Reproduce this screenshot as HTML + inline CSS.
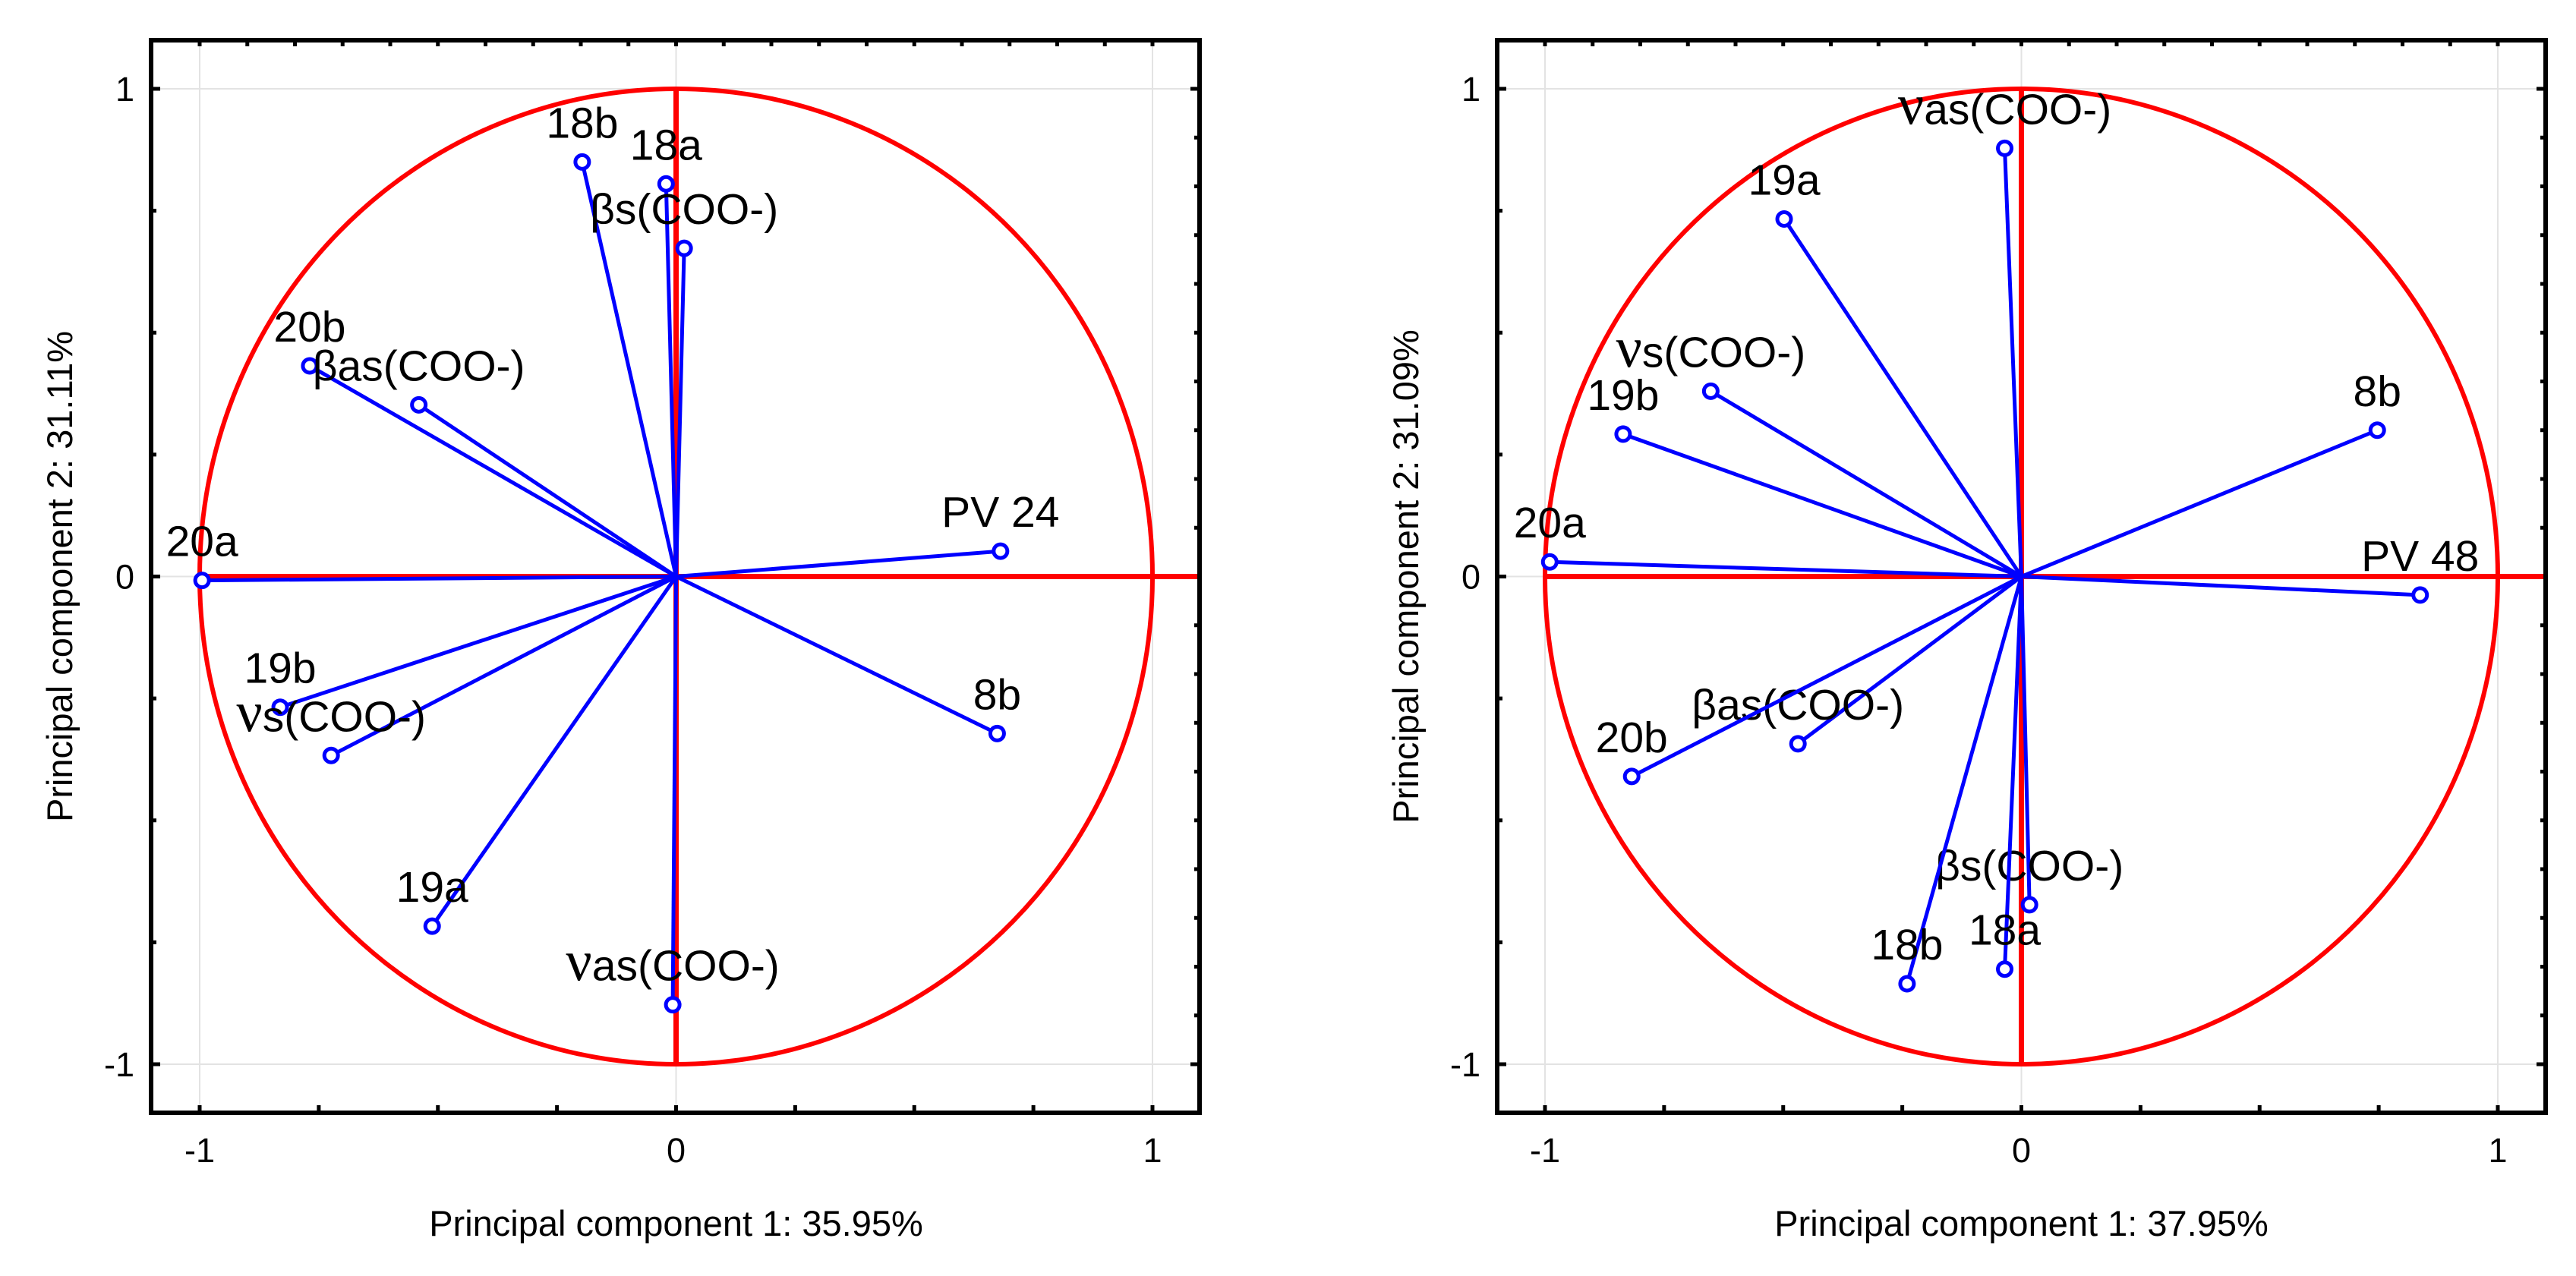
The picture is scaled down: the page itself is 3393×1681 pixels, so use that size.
<!DOCTYPE html>
<html><head><meta charset="utf-8"><style>
html,body{margin:0;padding:0;background:#fff}
svg{display:block}
text{font-family:"Liberation Sans",sans-serif;fill:#000}
</style></head><body>
<svg id="svg" width="3393" height="1681" viewBox="0 0 3393 1681" xmlns="http://www.w3.org/2000/svg"></svg>
<script>
// Left panel data (PV 24)
const leftLabels = ["20a","20b","βas","18b","18a","βs","PV24","8b","19b","νs","19a","νas"];
const leftX = [-0.995,-0.769,-0.540,-0.197,-0.021,0.017,0.681,0.674,-0.831,-0.724,-0.512,-0.007];
const leftY = [-0.008,0.432,0.352,0.850,0.805,0.673,0.052,-0.322,-0.268,-0.367,-0.717,-0.878];
// Right panel data (PV 48)
const rightLabels = ["νas","19a","νs","19b","8b","20a","PV48","βas","20b","βs","18a","18b"];
const rightX = [-0.035,-0.498,-0.652,-0.836,0.747,-0.990,0.837,-0.469,-0.818,0.017,-0.035,-0.240];
const rightY = [0.878,0.733,0.380,0.292,0.300,0.030,-0.038,-0.343,-0.410,-0.673,-0.805,-0.835];
const tickLabels = ["-1","0","1"];
const tickValues = [-1,0,1];
const xTitles = ["Principal component 1: 35.95%","Principal component 1: 37.95%"];
const yTitles = ["Principal component 2: 31.11%","Principal component 2: 31.09%"];

const NS="http://www.w3.org/2000/svg";
const svg=document.getElementById('svg');
function el(tag,attrs,parent){const e=document.createElementNS(NS,tag);for(const k in attrs)e.setAttribute(k,attrs[k]);(parent||svg).appendChild(e);return e;}

function labelParts(name){
  const map={"20a":["","20a"],"20b":["","20b"],"18a":["","18a"],"18b":["","18b"],"19a":["","19a"],"19b":["","19b"],"8b":["","8b"],
    "PV24":["","PV 24"],"PV48":["","PV 48"],"βas":["","βas(COO-)"],"βs":["","βs(COO-)"],"νs":["ν","s(COO-)"],"νas":["ν","as(COO-)"]};
  return map[name];
}

function panel(idx,left,right,x0,labels,xs,ys){
  const top=53,bottom=1466,y0=759.5,uy=642.5,ux=627.5;
  const sx=v=>x0+v*ux, sy=v=>y0-v*uy;
  const g=el('g',{});
  
  
  tickValues.forEach(v=>{
    const gl=el('line',{x1:sx(v),x2:sx(v),y1:top,y2:bottom,stroke:'#e3e3e3','stroke-width':2},g);
    
    
    const gh=el('line',{x1:left,x2:right,y1:sy(v),y2:sy(v),stroke:'#e3e3e3','stroke-width':2},g);
    
    
  });
  for(let v=-1;v<=1.0001;v+=0.25){
    const t1=el('line',{x1:sx(v),x2:sx(v),y1:bottom,y2:bottom-10,stroke:'#000','stroke-width':5},g);
    
    const t2=el('line',{x1:left,x2:left+(Math.abs(v)%1<0.01?12:7),y1:sy(v),y2:sy(v),stroke:'#000','stroke-width':5},g);
    
  }
  for(let i=-10;i<=10;i++){
    const v=i/10;
    const t3=el('line',{x1:sx(v),x2:sx(v),y1:top,y2:top+8,stroke:'#000','stroke-width':5},g);
    
    const t4=el('line',{x1:right,x2:right-(i%10===0?12:7),y1:sy(v),y2:sy(v),stroke:'#000','stroke-width':5},g);
    
  }
  tickValues.forEach((v,i)=>{
    const tx=el('text',{x:sx(v),y:1531,'font-size':45,'text-anchor':'middle'},g);
    tx.textContent=tickLabels[i];
    
    const ty=el('text',{x:left-22,y:sy(v)+16,'font-size':45,'text-anchor':'end'},g);
    ty.textContent=tickLabels[i];
    
  });
  const xt=el('text',{x:x0,y:1628,'font-size':47,'text-anchor':'middle'},g);
  xt.textContent=xTitles[idx];
  
  const ycx=left-120;
  const yt=el('text',{x:ycx,y:y0,'font-size':47,'text-anchor':'middle',transform:`rotate(-90 ${ycx} ${y0}) translate(0 16)`},g);
  yt.textContent=yTitles[idx];
  
  const c=el('ellipse',{cx:x0,cy:y0,rx:ux,ry:uy,fill:'none',stroke:'#ff0000','stroke-width':6},g);
  
  const h=el('line',{x1:sx(-1),x2:right,y1:y0,y2:y0,stroke:'#ff0000','stroke-width':7},g);
  
  const vl=el('line',{x1:x0,x2:x0,y1:sy(1),y2:sy(-1),stroke:'#ff0000','stroke-width':7},g);
  
  labels.forEach((lab,i)=>{
    const px=sx(xs[i]),py=sy(ys[i]);
    const ln=el('line',{x1:x0,y1:y0,x2:px,y2:py,stroke:'#0000ff','stroke-width':5},g);
    
    const pt=el('circle',{cx:px,cy:py,r:9,fill:'#fff',stroke:'#0000ff','stroke-width':5},g);
    
    const parts=labelParts(lab);
    const t=el('text',{x:px,y:py-32,'font-size':57,'text-anchor':'middle'},g);
    if(parts[0]){
      const s=el('tspan',{'font-family':'"Liberation Serif",serif','font-size':76},t);
      s.textContent=parts[0];
    }
    const s2=el('tspan',{},t);s2.textContent=parts[1];
    
  });
  const fr=el('rect',{x:left,y:top,width:right-left,height:bottom-top,fill:'none',stroke:'#000','stroke-width':6},g);
  
}
panel(0,199,1580,890.5,leftLabels,leftX,leftY);
panel(1,1972,3353,2662.5,rightLabels,rightX,rightY);
</script>
</body></html>
